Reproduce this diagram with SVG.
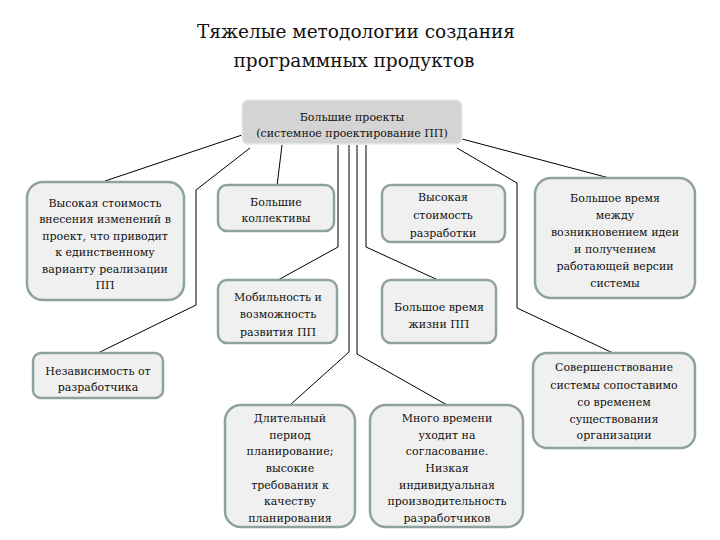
<svg xmlns="http://www.w3.org/2000/svg" width="720" height="540" viewBox="0 0 720 540">
<style>
.box{fill:#f0f0f0;stroke:#8fa29e;stroke-width:2.5}
.root{fill:#d4d4d4;stroke:#e4eeea;stroke-width:1.5}
text{font-family:"DejaVu Serif",serif;}
.t{font-size:11px;fill:#111;text-anchor:middle}
.title{font-size:18.5px;fill:#111;text-anchor:middle}
.c{fill:none;stroke:#000;stroke-width:1}
</style>
<rect width="720" height="540" fill="#ffffff"/>
<g id="title">
<text class="title" x="356" y="38">Тяжелые методологии создания</text>
<text class="title" x="354" y="67">программных продуктов</text>
</g>
<g id="connectors">
<polyline class="c" points="242,135 105,181"/>
<polyline class="c" points="250,148 196,190 196,305 98,353"/>
<polyline class="c" points="282,145 277,186"/>
<polyline class="c" points="338,145 338,247 278,280"/>
<polyline class="c" points="349,145 349,352 290,405"/>
<polyline class="c" points="357,145 357,354 447,405"/>
<polyline class="c" points="366,145 366,247 438,280"/>
<polyline class="c" points="462,139 613,179"/>
<polyline class="c" points="457,148 517,183 517,308 613,353"/>
</g>
<g id="root">
<rect class="root" x="242" y="100" width="220" height="44" rx="6"/>
<text class="t" x="352" y="121">Большие проекты</text>
<text class="t" x="352" y="137">(системное проектирование ПП)</text>
</g>
<g id="n1">
<rect class="box" x="27" y="182" width="157" height="118" rx="16"/>
<text class="t" x="105" y="207">Высокая стоимость</text>
<text class="t" x="105" y="223">внесения изменений в</text>
<text class="t" x="105" y="240">проект, что приводит</text>
<text class="t" x="105" y="256">к единственному</text>
<text class="t" x="105" y="273">варианту реализации</text>
<text class="t" x="105" y="289">ПП</text>
</g>
<g id="n2">
<rect class="box" x="218" y="185" width="116" height="46" rx="9"/>
<text class="t" x="276" y="206">Большие</text>
<text class="t" x="276" y="222">коллективы</text>
</g>
<g id="n3">
<rect class="box" x="218" y="280" width="119" height="63" rx="9"/>
<text class="t" x="278" y="301">Мобильность и</text>
<text class="t" x="278" y="318">возможность</text>
<text class="t" x="278" y="336">развития ПП</text>
</g>
<g id="n4">
<rect class="box" x="382" y="185" width="123" height="57" rx="9"/>
<text class="t" x="443" y="201">Высокая</text>
<text class="t" x="443" y="219">стоимость</text>
<text class="t" x="443" y="237">разработки</text>
</g>
<g id="n5">
<rect class="box" x="382" y="280" width="114" height="63" rx="9"/>
<text class="t" x="439" y="311">Большое время</text>
<text class="t" x="439" y="328">жизни ПП</text>
</g>
<g id="n6">
<rect class="box" x="535" y="178" width="160" height="120" rx="16"/>
<text class="t" x="615" y="202">Большое время</text>
<text class="t" x="615" y="219">между</text>
<text class="t" x="615" y="236">возникновением идеи</text>
<text class="t" x="615" y="253">и получением</text>
<text class="t" x="615" y="270">работающей версии</text>
<text class="t" x="615" y="287">системы</text>
</g>
<g id="n7">
<rect class="box" x="33" y="353" width="130" height="45" rx="8"/>
<text class="t" x="98" y="375">Независимость от</text>
<text class="t" x="98" y="391">разработчика</text>
</g>
<g id="n8">
<rect class="box" x="533" y="353" width="162" height="95" rx="14"/>
<text class="t" x="614" y="371">Совершенствование</text>
<text class="t" x="614" y="389">системы сопоставимо</text>
<text class="t" x="614" y="406">со временем</text>
<text class="t" x="614" y="423">существования</text>
<text class="t" x="614" y="439">организации</text>
</g>
<g id="n9">
<rect class="box" x="225" y="405" width="130" height="122" rx="16"/>
<text class="t" x="290" y="422">Длительный</text>
<text class="t" x="290" y="439">период</text>
<text class="t" x="290" y="455">планирование;</text>
<text class="t" x="290" y="472">высокие</text>
<text class="t" x="290" y="489">требования к</text>
<text class="t" x="290" y="505">качеству</text>
<text class="t" x="290" y="522">планирования</text>
</g>
<g id="n10">
<rect class="box" x="370" y="405" width="153" height="122" rx="16"/>
<text class="t" x="447" y="422">Много времени</text>
<text class="t" x="447" y="439">уходит на</text>
<text class="t" x="447" y="455">согласование.</text>
<text class="t" x="447" y="472">Низкая</text>
<text class="t" x="447" y="489">индивидуальная</text>
<text class="t" x="447" y="505">производительность</text>
<text class="t" x="447" y="522">разработчиков</text>
</g>
</svg>
